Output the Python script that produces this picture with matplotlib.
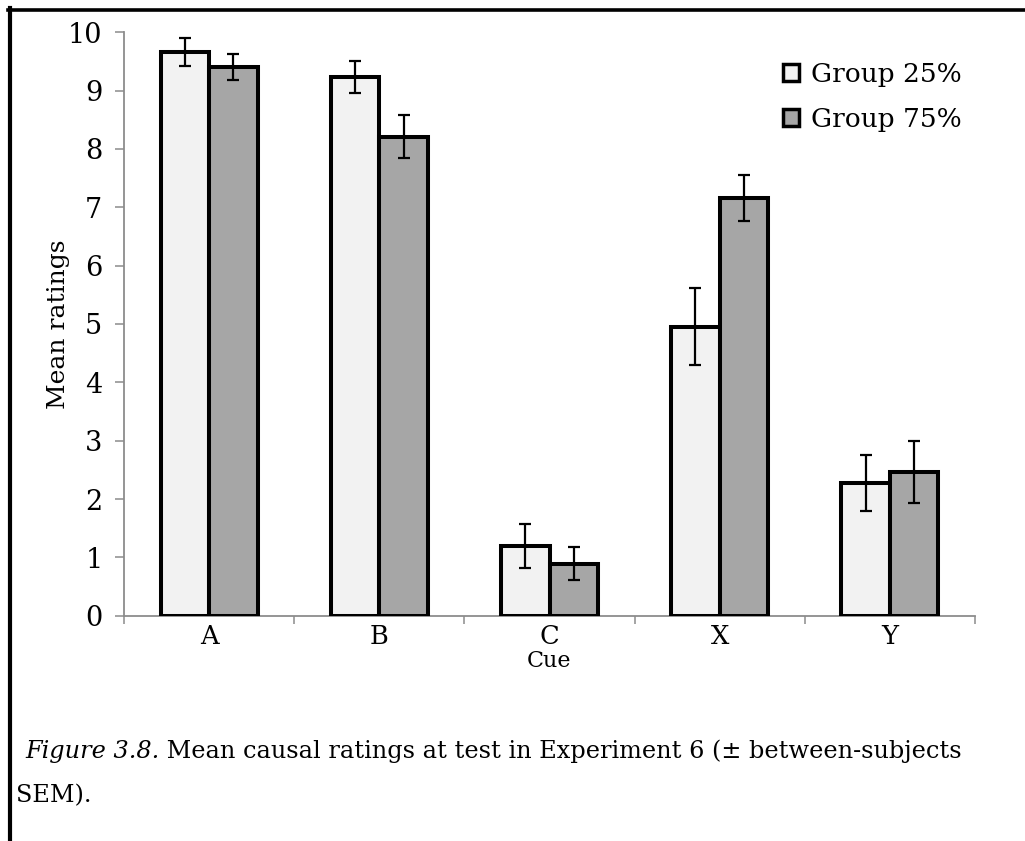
import matplotlib
matplotlib.use("Agg")
import matplotlib.pyplot as plt
from matplotlib.lines import Line2D
from matplotlib.patches import Patch
import numpy as np

categories = ["A", "B", "C", "X", "Y"]
series_names = ["Group 25%", "Group 75%"]
group25 = [9.66, 9.23, 1.19, 4.95, 2.27]
group75 = [9.41, 8.21, 0.89, 7.16, 2.47]
sem25 = [0.24, 0.27, 0.38, 0.66, 0.48]
sem75 = [0.22, 0.37, 0.28, 0.40, 0.53]
yticks = list(range(0, 11))
caption_line1 = "Figure 3.8."
caption_rest = " Mean causal ratings at test in Experiment 6 (\u00b1 between-subjects"
caption_line2 = "SEM)."

FONT = "DejaVu Serif"
plt.rcParams['font.family'] = [FONT, 'DejaVu Sans']

W, H = 1025, 841
fig = plt.figure(figsize=(W / 100, H / 100), dpi=100)
ax = fig.add_axes([124 / W, 1 - 615.7 / H, (975 - 124) / W, (615.7 - 32.3) / H])

x = np.arange(len(categories))
bw = 0.285
light = "#F2F2F2"
dark = "#A6A6A6"
axis_gray = "#8C8C8C"

ax.bar(x - bw / 2, group25, bw, color=light, edgecolor="black", linewidth=2.9, zorder=3, label=series_names[0])
ax.bar(x + bw / 2, group75, bw, color=dark, edgecolor="black", linewidth=2.9, zorder=3, label=series_names[1])
ax.errorbar(x - bw / 2, group25, yerr=sem25, fmt="none", ecolor="black", elinewidth=1.6, capsize=4, capthick=1.6, zorder=4)
ax.errorbar(x + bw / 2, group75, yerr=sem75, fmt="none", ecolor="black", elinewidth=1.6, capsize=4, capthick=1.6, zorder=4)

ax.set_xlim(-0.5, len(categories) - 0.5)
ax.set_ylim(0, 10)
ax.set_yticks(yticks)
ax.set_yticklabels([str(t) for t in yticks], fontsize=19.5)
ax.tick_params(axis="y", direction="out", length=6.5, width=1.1, color=axis_gray, pad=9)

ax.set_xticks(np.arange(-0.5, len(categories), 1.0))
ax.set_xticklabels([])
ax.tick_params(axis="x", which="major", direction="out", length=6, width=1.1, color=axis_gray)
ax.set_xticks(x, minor=True)
ax.set_xticklabels(categories, minor=True, fontsize=18.5)
ax.tick_params(axis="x", which="minor", length=0, pad=6)

for s in ["top", "right"]:
    ax.spines[s].set_visible(False)
for s in ["left", "bottom"]:
    ax.spines[s].set_color(axis_gray)
    ax.spines[s].set_linewidth(1.3)

ax.set_ylabel("Mean ratings", fontsize=18)
ax.yaxis.set_label_coords((70 - 124) / 851, 0.5)
ax.set_xlabel("Cue", fontsize=16, labelpad=1)

handles = [Patch(facecolor=light, edgecolor="black", linewidth=2.5),
           Patch(facecolor=dark, edgecolor="black", linewidth=2.5)]
ax.legend(handles, series_names, loc="upper right", bbox_to_anchor=((962 - 124) / 851, (615.7 - 62) / 583.4),
          frameon=False, fontsize=19, handlelength=0.62, handleheight=0.62, handletextpad=0.45,
          labelspacing=0.75, borderaxespad=0.0, borderpad=0.0)

# caption
cap_fs = 17.3
t1 = fig.text(25 / W, 1 - 758 / H, caption_line1, fontsize=cap_fs, style="italic", va="baseline", ha="left")
fig.canvas.draw()
bb = t1.get_window_extent()
fig.text(bb.x1 / W, 1 - 758 / H, caption_rest, fontsize=cap_fs, va="baseline", ha="left")
fig.text(16 / W, 1 - 802 / H, caption_line2, fontsize=cap_fs, va="baseline", ha="left")

# frame lines
fig.add_artist(Line2D([9.5 / W, 9.5 / W], [0, 1 - 8 / H], transform=fig.transFigure, color="black", linewidth=3.0))
fig.add_artist(Line2D([7.5 / W, 1.0], [1 - 10 / H, 1 - 10 / H], transform=fig.transFigure, color="black", linewidth=2.6))

fig.savefig("out.png", dpi=100)
